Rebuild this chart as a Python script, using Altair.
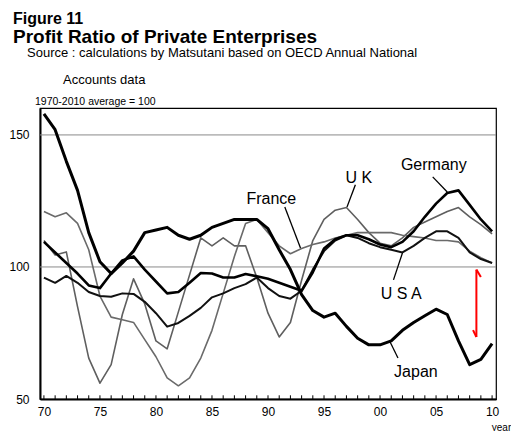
import altair as alt
import pandas as pd

years = list(range(1970, 2011))

japan = [158, 152, 140, 129, 113, 102, 97.5, 101.5, 106, 113,
         114, 115, 112, 110.5, 112, 115, 116.5, 118, 118, 118,
         114.5, 106.5, 99, 89.5, 83.5, 81, 82.5, 77.5, 73, 70.5,
         70.5, 72, 76, 79, 81.5, 84, 82, 72, 63, 65, 71]
germany = [109.5, 105.5, 101.5, 97.5, 93, 92, 97.5, 102.5, 104, 99,
           94.5, 90, 90.5, 94, 97.7, 97.5, 96, 96, 97.3, 96.5,
           95.5, 94, 92.5, 91, 98, 107, 110.5, 112, 112, 110.5,
           108.5, 107.5, 109.5, 113.5, 119, 124, 128, 129, 123.5, 118, 113.5]
usa = [96, 94, 96.6, 94, 90.5, 89, 88.7, 90, 89.8, 86.8,
       82.5, 77.4, 78.8, 81.5, 84.5, 88.5, 90, 92, 93.5, 96,
       92, 89, 88, 91, 99, 106, 110, 112, 111, 109,
       107.5, 106.5, 105.5, 108, 111, 113.5, 113.5, 111, 105.5, 103, 101.5]
uk = [110, 104.5, 105.7, 85, 65.5, 56, 63, 82, 95.5, 86,
      72, 69, 83, 97, 111, 108, 111, 108, 108, 96,
      82.5, 73.5, 79, 95, 110, 118, 121.5, 122.5, 118, 113,
      109, 108, 111, 115, 117, 119, 121, 122.5, 119, 116, 112.5]
france = [121, 119, 120.5, 116.5, 106.5, 89, 81, 80, 79, 72.5,
          66, 58, 55, 58, 65.5, 76, 90, 104, 116.5, 118,
          113, 108, 105, 107, 108.5, 109.5, 111, 112, 113, 113,
          113, 113, 112, 111.5, 111, 110, 110, 109.5, 106, 103.5, 101.5]

x_ticks = [1970, 1975, 1980, 1985, 1990, 1995, 2000, 2005, 2010]
y_ticks = [50, 100, 150]
grid_values = [100, 150]

# series labels and pointer lines (data coordinates)
label_text = ["France", "U K", "Germany", "U S A", "Japan"]
label_x = [1990.3, 1998.1, 2004.8, 2001.9, 2003.2]
label_y = [125.8, 133.7, 138.6, 89.8, 60.2]
ptr_x = [1991.5, 1997.8, 2004.7, 2001.2, 2001.6]
ptr_y = [122.7, 131.1, 134.1, 95.1, 65.5]
ptr_x2 = [1992.9, 1997.05, 2006.0, 2002.0, 2000.9]
ptr_y2 = [107.2, 122.7, 128.4, 105.3, 71.6]

# red arrow
arrow_x = [2008.6, 2008.6, 2008.3]
arrow_y = [99, 99, 76.1]
arrow_x2 = [2008.6, 2009.0, 2008.6]
arrow_y2 = [73.5, 96.2, 73.5]

W, H = 456, 291
XDOM = [1969.65, 2010.35]
YDOM = [50, 160.2]
FONT = "Liberation Sans"

xs = alt.Scale(domain=XDOM, nice=False, zero=False)
ys = alt.Scale(domain=YDOM, nice=False, zero=False)

series = [
    ("UK", uk, "#5f5f5f", 1.6),
    ("France", france, "#6a6a6a", 1.6),
    ("USA", usa, "#111111", 2.0),
    ("Germany", germany, "#000000", 2.6),
    ("Japan", japan, "#000000", 3.0),
]

layers = []

grid_df = pd.DataFrame({"v": grid_values})
layers.append(alt.Chart(grid_df).mark_rule(color="#8a8a8a", strokeWidth=1).encode(
    y=alt.Y("v:Q", scale=ys)))

tick_df = pd.DataFrame({"yr": years})
layers.append(alt.Chart(tick_df).mark_rule(color="#000", strokeWidth=1).encode(
    x=alt.X("yr:Q", scale=xs),
    y=alt.Y("lo:Q", scale=ys),
    y2="hi:Q",
).transform_calculate(lo="50", hi="51.4"))

for name, vals, col, sw in series:
    df = pd.DataFrame({"year": years, "value": vals})
    xe = alt.X("year:Q", scale=xs,
               axis=alt.Axis(values=x_ticks, ticks=False, grid=False,
                             labelExpr="substring(toString(datum.value), 2, 4)",
                             labelFont=FONT, labelFontSize=12, labelColor="#000",
                             labelPadding=7, domainColor="#000", domainWidth=2,
                             title="year", titleFont=FONT, titleFontSize=10,
                             titleFontWeight="normal", titleX=461, titleY=28,
                             titleAlign="center", titleBaseline="middle"))
    ye = alt.Y("value:Q", scale=ys,
               axis=alt.Axis(values=y_ticks, ticks=False, grid=False,
                             labelFont=FONT, labelFontSize=12, labelColor="#000",
                             labelPadding=11, domainColor="#000", domainWidth=2,
                             title=None))
    layers.append(alt.Chart(df).mark_line(color=col, strokeWidth=sw,
                                          strokeJoin="round").encode(x=xe, y=ye))

ptr_df = pd.DataFrame({"x": ptr_x, "y": ptr_y, "x2": ptr_x2, "y2": ptr_y2})
layers.append(alt.Chart(ptr_df).mark_rule(color="#000", strokeWidth=1.3).encode(
    x=alt.X("x:Q", scale=xs), y=alt.Y("y:Q", scale=ys), x2="x2:Q", y2="y2:Q"))

lab_df = pd.DataFrame({"t": label_text, "x": label_x, "y": label_y})
layers.append(alt.Chart(lab_df).mark_text(font=FONT, fontSize=16, color="#000",
                                          align="center", baseline="middle").encode(
    x=alt.X("x:Q", scale=xs), y=alt.Y("y:Q", scale=ys), text="t:N"))

arr_df = pd.DataFrame({"x": arrow_x, "y": arrow_y, "x2": arrow_x2, "y2": arrow_y2})
layers.append(alt.Chart(arr_df).mark_rule(color="#ff0000", strokeWidth=2).encode(
    x=alt.X("x:Q", scale=xs), y=alt.Y("y:Q", scale=ys), x2="x2:Q", y2="y2:Q"))

# header texts (pixel positions relative to plot origin)
headers = [
    ("Figure 11", -27, -84, 16, "bold"),
    ("Profit Ratio of Private Enterprises", -27, -65, 19, "bold"),
    ("Source : calculations by Matsutani based on OECD Annual National", -13, -51, 13, "normal"),
    ("Accounts data", 23, -24, 13, "normal"),
    ("1970-2010 average = 100", -5, -3, 10.5, "normal"),
]
for txt, hx, hy, fs, fw in headers:
    layers.append(alt.Chart(pd.DataFrame({"t": [txt]})).mark_text(
        font=FONT, fontSize=fs, fontWeight=fw, color="#000",
        align="left", baseline="alphabetic").encode(
        x=alt.value(hx), y=alt.value(hy), text="t:N"))

chart = alt.layer(*layers).properties(
    width=W, height=H,
    autosize=alt.AutoSizeParams(type="none"),
    padding={"left": 32, "top": 100, "right": 15, "bottom": 32},
    background="white",
).configure_view(stroke="#000", strokeWidth=1.2)

chart.save("out.html", embed_options={"renderer": "svg", "actions": False})
